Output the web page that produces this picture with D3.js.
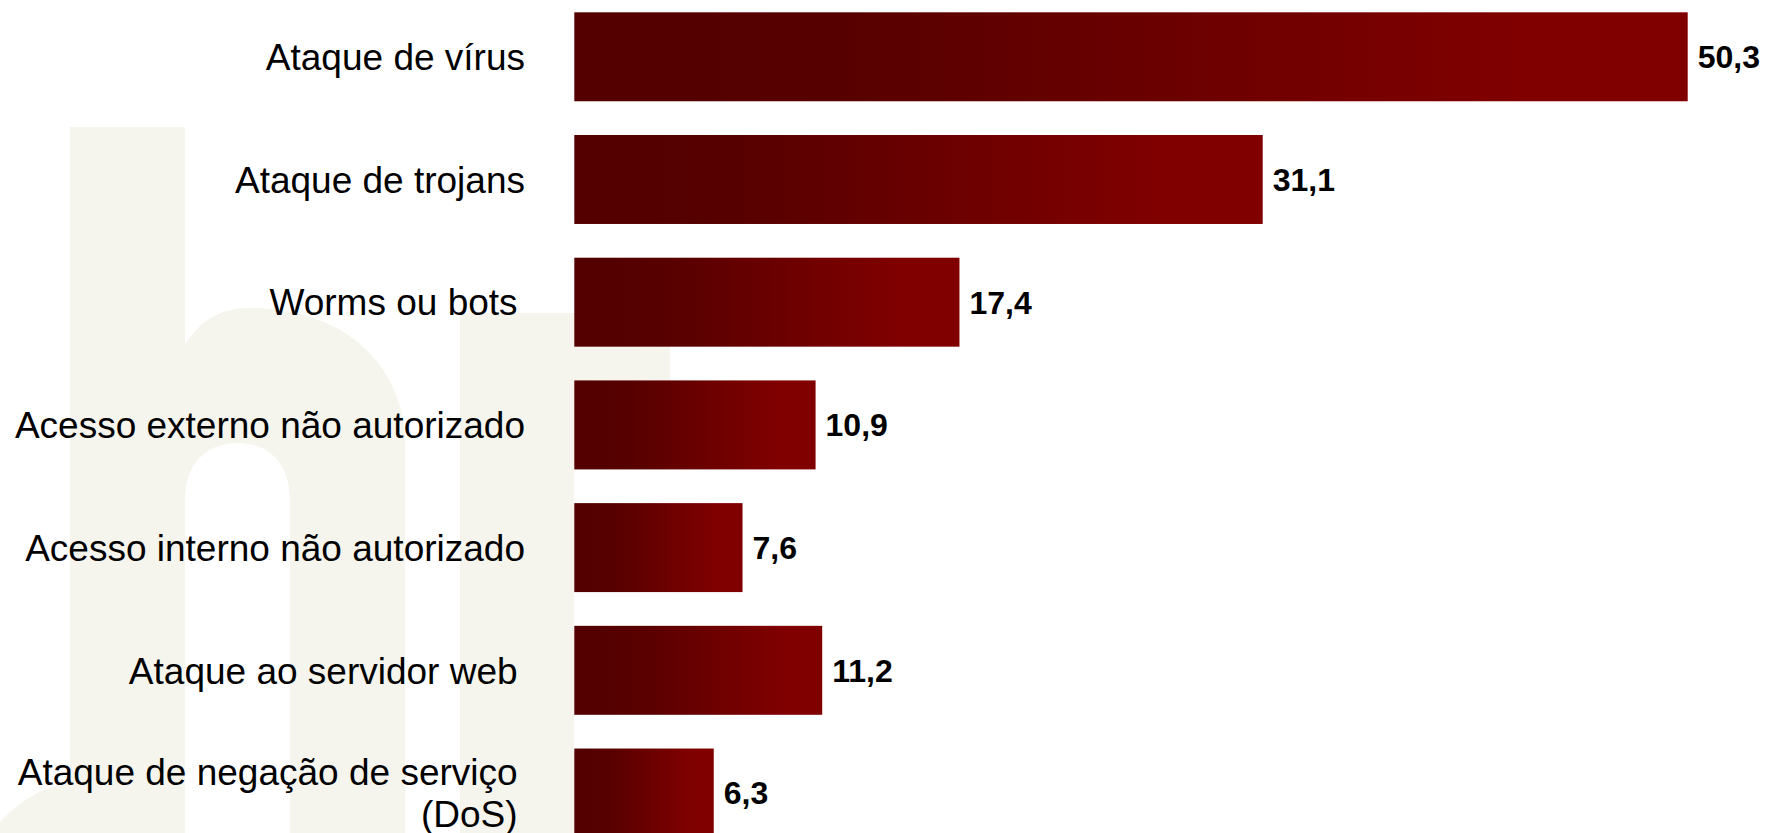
<!DOCTYPE html>
<html>
<head>
<meta charset="utf-8">
<script src="https://cdn.jsdelivr.net/npm/d3@7"></script>
<style>
  body { margin: 0; background: #fff; }
  svg { display: block; font-family: "Liberation Sans", Arial, sans-serif; }
</style>
</head>
<body>
<div id="chart"></div>
<script>
var svgWidth = 1767;
var svgHeight = 833;

// categories (top to bottom) and values (%)
var categories = [
  "Ataque de vírus",
  "Ataque de trojans",
  "Worms ou bots\u2009",
  "Acesso externo não autorizado",
  "Acesso interno não autorizado",
  "Ataque ao servidor web\u2009",
  "Ataque de negação de serviço\u2009|(DoS)\u2009"
];
var values = [50.3, 31.1, 17.4, 10.9, 7.6, 11.2, 6.3];
var valueLabels = ["50,3", "31,1", "17,4", "10,9", "7,6", "11,2", "6,3"];

var svg = d3.select("#chart")
  .append("svg")
  .attr("width", svgWidth)
  .attr("height", svgHeight);

// gradient for the bars
var defs = svg.append("defs");
var grad = defs.append("linearGradient")
  .attr("id", "barGrad")
  .attr("x1", "0%").attr("x2", "100%")
  .attr("y1", "0%").attr("y2", "0%");
grad.append("stop").attr("offset", "0%").attr("stop-color", "#540000");
grad.append("stop").attr("offset", "22%").attr("stop-color", "#560000");
grad.append("stop").attr("offset", "85%").attr("stop-color", "#800000");
grad.append("stop").attr("offset", "100%").attr("stop-color", "#800000");

// light watermark in the background ("hi" logo)
var wm = svg.append("g").attr("fill", "#f5f5ee");
wm.append("path")
  .attr("d", "M70,127 H185 V345 C200,320 222,308 250,308 C330,308 395,350 405,430 V833 H290 V500 C290,465 270,443 238,443 C205,443 185,465 185,500 V833 H70 Z");
wm.append("path")
  .attr("d", "M460,313 H670 V470 H574 V833 H460 Z");
wm.append("path")
  .attr("d", "M0,833 V822 C20,800 45,786 71,783 V833 Z");

var x = d3.scaleLinear()
  .domain([0, 50.3])
  .range([574.3, 1687.7]);

var y = d3.scaleBand()
  .domain(categories)
  .range([12.3, 837.5])
  .paddingInner(0.275)
  .paddingOuter(0);

var chartGroup = svg.append("g");

chartGroup.selectAll("rect.bar")
  .data(values)
  .enter()
  .append("rect")
  .attr("class", "bar")
  .attr("x", x(0))
  .attr("y", (d, i) => y(categories[i]))
  .attr("width", d => x(d) - x(0))
  .attr("height", y.bandwidth())
  .attr("fill", "url(#barGrad)");

// value labels
chartGroup.selectAll("text.value")
  .data(values)
  .enter()
  .append("text")
  .attr("class", "value")
  .attr("x", d => x(d) + 10)
  .attr("y", (d, i) => y(categories[i]) + y.bandwidth() / 2 + 11.4)
  .attr("font-size", "32px")
  .attr("font-weight", "bold")
  .attr("fill", "#000")
  .text((d, i) => valueLabels[i]);

// category labels
var catLabels = chartGroup.selectAll("text.cat")
  .data(categories)
  .enter()
  .append("text")
  .attr("class", "cat")
  .attr("text-anchor", "end")
  .attr("font-size", "37px")
  .attr("fill", "#000")
  .style("white-space", "pre");

catLabels.each(function(d) {
  var lines = d.split("|");
  var cy = y(d) + y.bandwidth() / 2;
  var lineH = 42;
  var first = cy + 13.3 - (lines.length - 1) * lineH / 2;
  var t = d3.select(this);
  lines.forEach(function(line, k) {
    t.append("tspan")
      .attr("x", 525)
      .attr("y", first + k * lineH)
      .text(line);
  });
});
</script>
</body>
</html>
